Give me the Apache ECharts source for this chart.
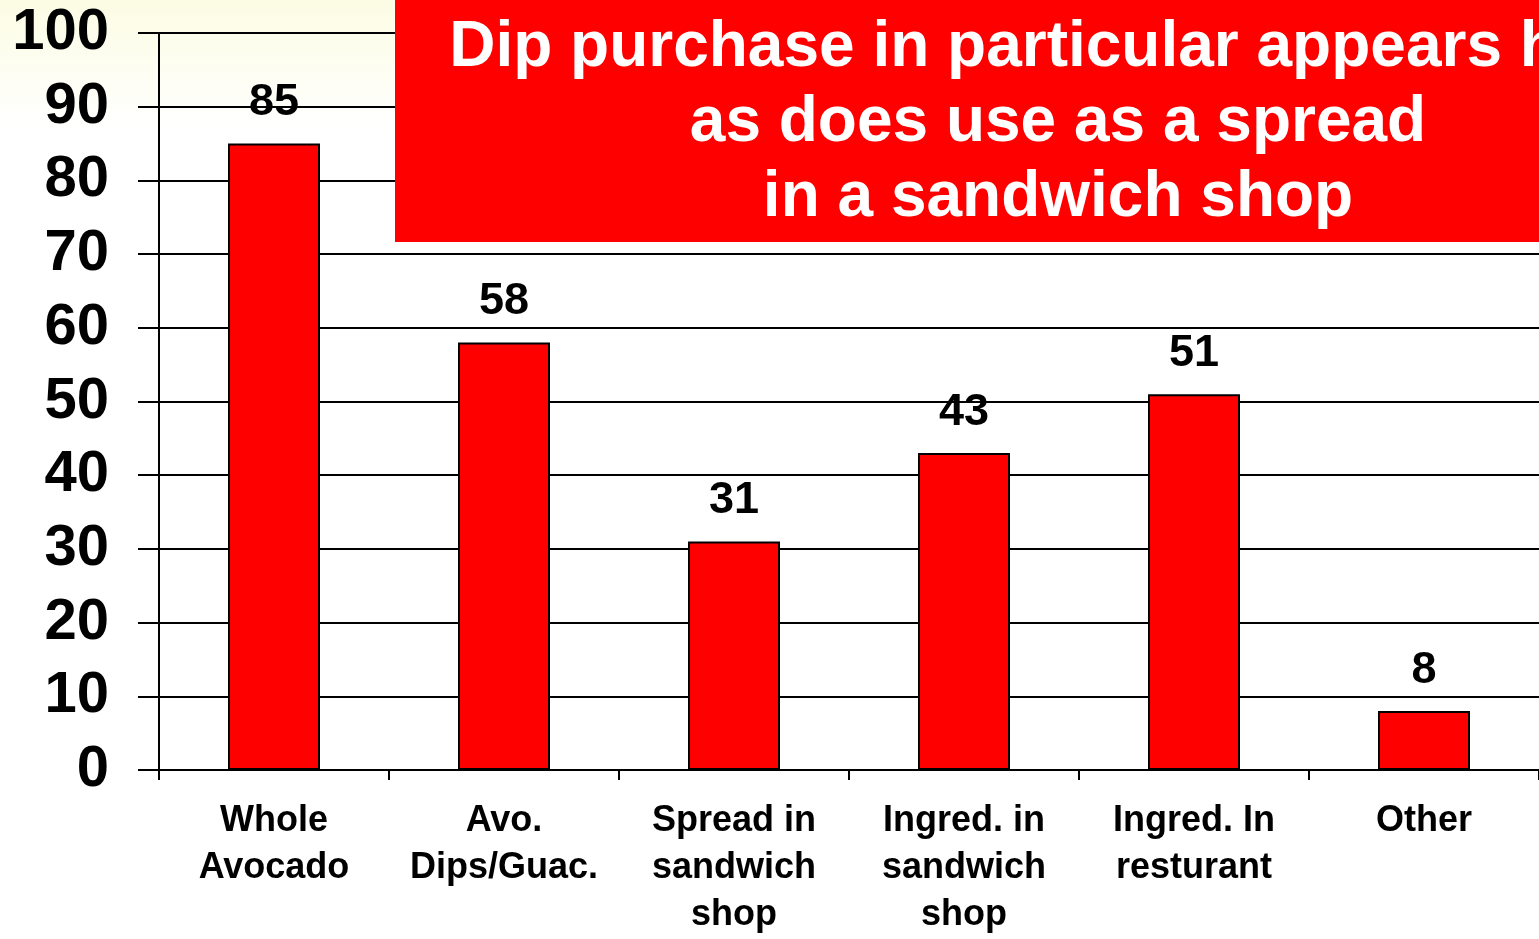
<!DOCTYPE html>
<html>
<head>
<meta charset="utf-8">
<script src="https://cdn.jsdelivr.net/npm/echarts@6/dist/echarts.min.js"></script>
<style>
html,body{margin:0;padding:0;background:#fff;}
#chart{width:1539px;height:939px;}
</style>
</head>
<body>
<div id="chart"></div>
<script>
const categories = ['Whole\nAvocado','Avo.\nDips/Guac.','Spread in\nsandwich\nshop','Ingred. in\nsandwich\nshop','Ingred. In\nresturant','Other'];
const values = [85, 58, 31, 43, 51, 8];
const titleLines = ['Dip purchase in particular appears high','as does use as a spread','in a sandwich shop'];

const chart = echarts.init(document.getElementById('chart'));
const FONT = '"Liberation Sans", Arial, sans-serif';
chart.setOption({
  animation: false,
  backgroundColor: {
    type: 'linear', x: 0, y: 0, x2: 0, y2: 1,
    colorStops: [{offset: 0, color: '#fcfce4'}, {offset: 0.14, color: '#ffffff'}, {offset: 1, color: '#ffffff'}]
  },
  grid: {left: 159, top: 33, width: 1382, height: 742, containLabel: false},
  xAxis: {
    type: 'category',
    data: categories,
    axisLine: {lineStyle: {color: '#000', width: 2}},
    axisTick: {show: true, length: 10, lineStyle: {color: '#000', width: 2}},
    axisLabel: {
      interval: 0, margin: 28, color: '#000', fontFamily: FONT,
      fontWeight: 'bold', fontSize: 36, lineHeight: 47
    }
  },
  yAxis: {
    type: 'value', min: 0, max: 100, interval: 10,
    axisLine: {show: true, lineStyle: {color: '#000', width: 2}},
    axisTick: {show: true, length: 21, lineStyle: {color: '#000', width: 2}},
    splitLine: {show: true, lineStyle: {color: '#000', width: 2}},
    axisLabel: {margin: 50, color: '#000', fontFamily: FONT, fontWeight: 'bold', fontSize: 58}
  },
  series: [{
    type: 'bar',
    data: values,
    barWidth: 92,
    itemStyle: {color: '#ff0000', borderColor: '#000', borderWidth: 2},
    label: {
      show: true, position: 'top', distance: 18, color: '#000',
      fontFamily: FONT, fontWeight: 'bold', fontSize: 45
    }
  }],
  graphic: [
    {type: 'rect', z: 100, shape: {x: 395, y: 0, width: 1200, height: 242}, style: {fill: '#ff0000'}},
    {type: 'text', z: 101, x: 1052, y: 48, style: {text: titleLines[0], fill: '#fff', font: 'bold 64px ' + FONT, textAlign: 'center', textVerticalAlign: 'middle'}},
    {type: 'text', z: 101, x: 1058, y: 123, style: {text: titleLines[1], fill: '#fff', font: 'bold 64px ' + FONT, textAlign: 'center', textVerticalAlign: 'middle'}},
    {type: 'text', z: 101, x: 1058, y: 198, style: {text: titleLines[2], fill: '#fff', font: 'bold 64px ' + FONT, textAlign: 'center', textVerticalAlign: 'middle'}}
  ]
});
</script>
</body>
</html>
